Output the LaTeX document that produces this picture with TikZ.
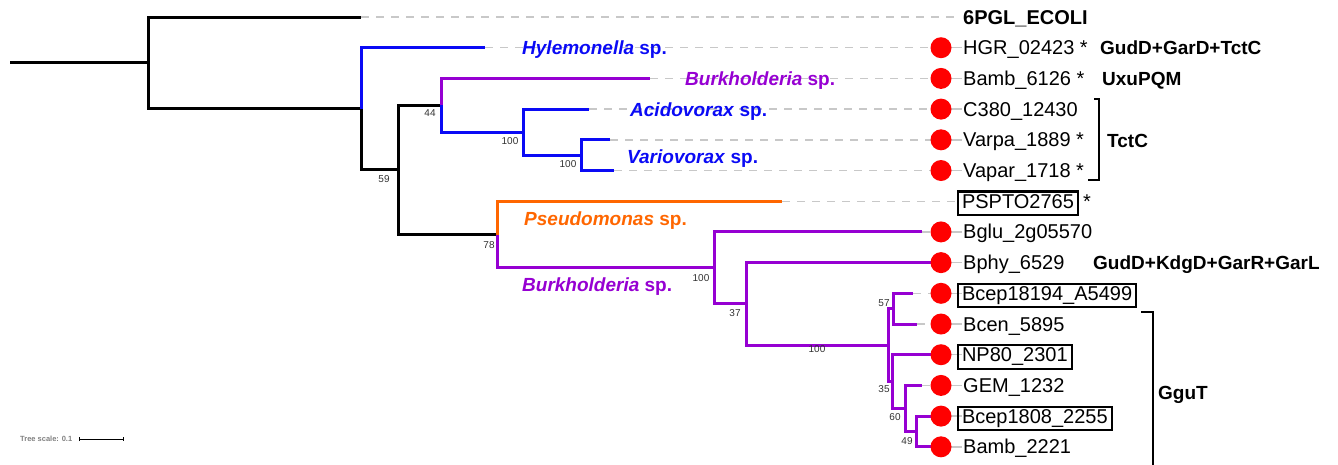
\documentclass[tikz,border=0pt]{standalone}
\usepackage{fontspec}
\setmainfont{Liberation Sans}
\usetikzlibrary{arrows.meta}
\definecolor{tblue}{RGB}{10,10,245}
\definecolor{tpurple}{RGB}{150,0,210}
\definecolor{torange}{RGB}{255,102,0}
\definecolor{tgray}{RGB}{200,200,200}
\definecolor{bsgray}{RGB}{50,50,50}
\begin{document}
\begin{tikzpicture}[x=1pt,y=-1pt,
  branch/.style={line width=3pt},
  guide/.style={tgray,line width=1.4pt,dash pattern=on 8pt off 7pt},
  stub/.style={tgray,line width=1.4pt},
  dotmark/.style={circle,fill=red,minimum size=21pt,inner sep=0pt},
  leaf/.style={anchor=base west,inner sep=0pt,font=\fontsize{20}{24}\selectfont},
  boxleaf/.style={anchor=base west,draw,line width=2.2pt,inner xsep=4pt,inner ysep=2.5pt,outer sep=0pt,text height=14pt,text depth=4.5pt,font=\fontsize{20}{24}\selectfont},
  ann/.style={anchor=base west,inner sep=0pt,font=\bfseries\fontsize{19}{22}\selectfont},
  spec/.style={anchor=base west,inner sep=0pt,font=\bfseries\fontsize{19}{22}\selectfont},
  boot/.style={inner sep=0pt,text=bsgray,font=\fontsize{10}{12}\selectfont},
  bracket/.style={line width=1.3pt}]
\useasboundingbox (0,0) rectangle (1338,464);
% internal nodes
\coordinate (r0) at (10,62.9);
\coordinate (root) at (148,62.9);
\coordinate (n361) at (361,108.8);
\coordinate (n398) at (398,169.9);
\coordinate (n441) at (441,105.3);
\coordinate (n523) at (523,132.1);
\coordinate (n581) at (581,155.15);
\coordinate (n497) at (497,234.5);
\coordinate (n714) at (714,267.9);
\coordinate (n746) at (746,303.9);
\coordinate (n888) at (888,345.1);
\coordinate (n893) at (893,308.65);
\coordinate (n892) at (892,381.6);
\coordinate (n905) at (905,408.4);
\coordinate (n916) at (916,431.45);
% tips
\coordinate (t1) at (361,17);
\coordinate (t2) at (485,47.7);
\coordinate (t3) at (650,78.4);
\coordinate (t4) at (589,109.1);
\coordinate (t5) at (610,139.8);
\coordinate (t6) at (614,170.5);
\coordinate (t7) at (782,201.2);
\coordinate (t8) at (922,231.9);
\coordinate (t9) at (932,262.6);
\coordinate (t10) at (913,293.3);
\coordinate (t11) at (917,324);
\coordinate (t12) at (932,354.7);
\coordinate (t13) at (922,385.4);
\coordinate (t14) at (932,416.1);
\coordinate (t15) at (932,446.8);
% label anchors
\coordinate (a1) at (960,17);
\coordinate (a7) at (958,201.2);
\foreach \i/\y in {2/47.7,3/78.4,4/109.1,5/139.8,6/170.5,8/231.9,9/262.6,10/293.3,11/324,12/354.7,13/385.4,14/416.1,15/446.8}{
  \coordinate (d\i) at (941,\y);
  \coordinate (a\i) at (962,\y);
}
% guides
\draw[guide] (t1) -- (a1);
\draw[guide] (t7) -- (a7);
\foreach \i in {2,3,4,5,6,8,9,10,11,12,13,14,15}{
  \draw[guide] (t\i) -- (d\i);
  \draw[stub] (d\i) -- (a\i);
}
% branches
\draw[branch] (r0) -- (root);
\draw[branch] (root) |- (t1);
\draw[branch] (root) |- (n361);
\draw[branch,tblue] (n361) |- (t2);
\draw[branch] (n361) |- (n398);
\draw[branch] (n398) |- (n441);
\draw[branch] (n398) |- (n497);
\draw[branch,tpurple] (n441) |- (t3);
\draw[branch,tblue] (n441) |- (n523);
\draw[branch,tblue] (n523) |- (t4);
\draw[branch,tblue] (n523) |- (n581);
\draw[branch,tblue] (n581) |- (t5);
\draw[branch,tblue] (n581) |- (t6);
\draw[branch,torange] (n497) |- (t7);
\begin{scope}[branch,tpurple]
\draw (n497) |- (n714);
\draw (n714) |- (t8);
\draw (n714) |- (n746);
\draw (n746) |- (t9);
\draw (n746) |- (n888);
\draw (n888) |- (n893);
\draw (n888) |- (n892);
\draw (n893) |- (t10);
\draw (n893) |- (t11);
\draw (n892) |- (t12);
\draw (n892) |- (n905);
\draw (n905) |- (t13);
\draw (n905) |- (n916);
\draw (n916) |- (t14);
\draw (n916) |- (t15);
\end{scope}
% dots
\foreach \i in {2,3,4,5,6,8,9,10,11,12,13,14,15}{
  \node[dotmark] (m\i) at (d\i) {};
}
% leaf labels
\node[leaf,font=\bfseries\fontsize{20}{24}\selectfont] (L1) at (963,24) {6PGL\_ECOLI};
\node[leaf] (L2) at (963,54.7) {HGR\_02423 *};
\node[leaf] (L3) at (963,85.4) {Bamb\_6126 *};
\node[leaf] (L4) at (963,116.1) {C380\_12430};
\node[leaf] (L5) at (963,146.8) {Varpa\_1889 *};
\node[leaf] (L6) at (963,177.5) {Vapar\_1718 *};
\node[boxleaf] (L7) at (958,208) {PSPTO2765};
\node[leaf] (L7s) at (1083,208) {*};
\node[leaf] (L8) at (963,238.9) {Bglu\_2g05570};
\node[leaf] (L9) at (963,269.6) {Bphy\_6529};
\node[boxleaf] (L10) at (958,300.3) {Bcep18194\_A5499};
\node[leaf] (L11) at (963,331) {Bcen\_5895};
\node[boxleaf] (L12) at (958,361.7) {NP80\_2301};
\node[leaf] (L13) at (963,392.4) {GEM\_1232};
\node[boxleaf] (L14) at (958,423.1) {Bcep1808\_2255};
\node[leaf] (L15) at (963,453.8) {Bamb\_2221};
% annotations
\node[ann] (A1) at (1100,54.7) {GudD+GarD+TctC};
\node[ann] (A2) at (1102,85.4) {UxuPQM};
\node[ann] (A3) at (1107,147.8) {TctC};
\node[ann] (A4) at (1093,269.6) {GudD+KdgD+GarR+GarL};
\node[ann] (A5) at (1158,399.8) {GguT};
% brackets
\coordinate (k1) at (1094,99);
\coordinate (k2) at (1099,99);
\coordinate (k3) at (1099,180);
\coordinate (k4) at (1088,180);
\draw[bracket] (k1) -- (k2) -- (k3) -- (k4);
\coordinate (g1) at (1141,312);
\coordinate (g2) at (1153,312);
\coordinate (g3) at (1153,470);
\draw[bracket] (g1) -- (g2) -- (g3);
% species labels
\node[spec,text=tblue] (S1) at (522,54.7) {\textit{Hylemonella} sp.};
\node[spec,text=tpurple] (S2) at (685,85.4) {\textit{Burkholderia} sp.};
\node[spec,text=tblue] (S3) at (630,116.1) {\textit{Acidovorax} sp.};
\node[spec,text=tblue] (S4) at (627,163.3) {\textit{Variovorax} sp.};
\node[spec,text=torange] (S5) at (524,225) {\textit{Pseudomonas} sp.};
\node[spec,text=tpurple] (S6) at (522,291.7) {\textit{Burkholderia} sp.};
% bootstrap values
\node[boot] (b59) at (384,179.5) {59};
\node[boot] (b44) at (430,113) {44};
\node[boot] (b100a) at (510,141) {100};
\node[boot] (b100b) at (568,164) {100};
\node[boot] (b78) at (489,245) {78};
\node[boot] (b100c) at (701,278) {100};
\node[boot] (b37) at (735,313) {37};
\node[boot] (b100d) at (817,349) {100};
\node[boot] (b57) at (884,303) {57};
\node[boot] (b35) at (884,389) {35};
\node[boot] (b60) at (895,417) {60};
\node[boot] (b49) at (907,441) {49};
% tree scale
\node[anchor=base west,inner sep=0pt,text=gray,font=\bfseries\fontsize{7.5}{9}\selectfont] (ts) at (20,441.6) {Tree scale: 0.1};
\coordinate (sb1) at (79,439);
\coordinate (sb2) at (124,439);
\draw[line width=1pt,{Bar[width=4pt]}-{Bar[width=4pt]}] (sb1) -- (sb2);
\end{tikzpicture}
\end{document}
